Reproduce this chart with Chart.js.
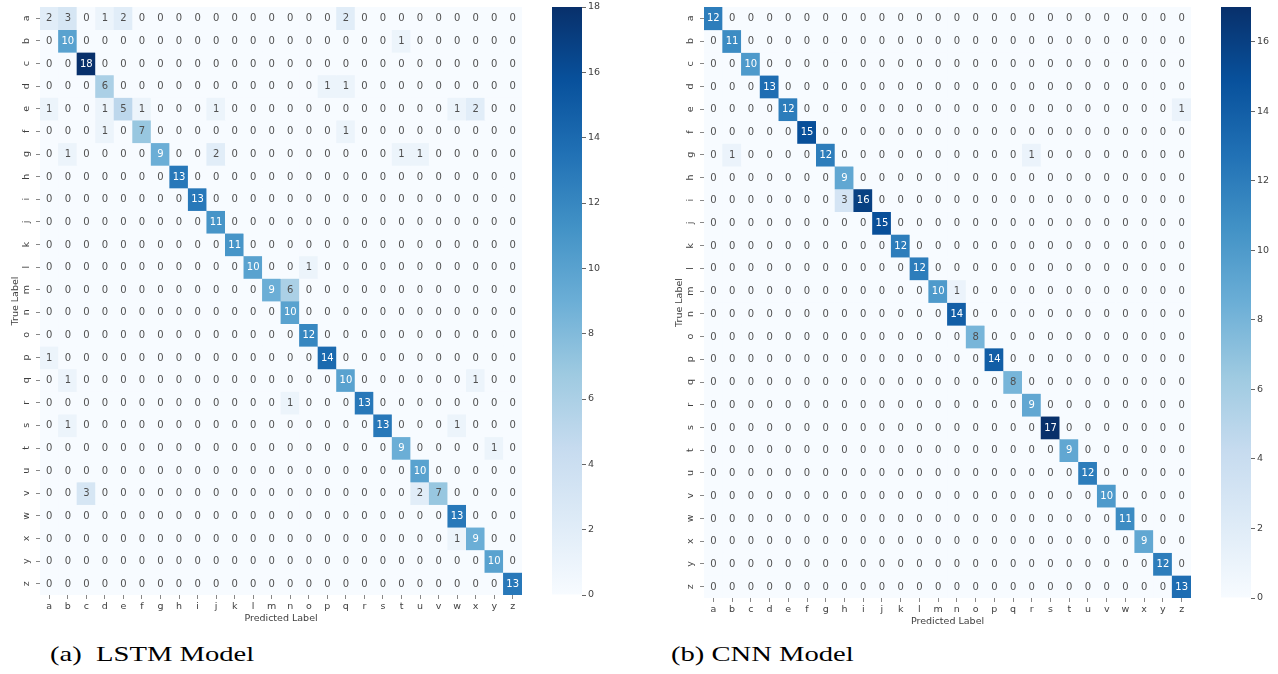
<!DOCTYPE html>
<html>
<head>
<meta charset="utf-8">
<script src="https://cdn.jsdelivr.net/npm/chart.js@4.4.0/dist/chart.umd.min.js"></script>
<style>
  html, body { margin: 0; padding: 0; background: #fff; }
  body { width: 1278px; height: 674px; overflow: hidden; position: relative; }
  .box { position: absolute; }
  .cap { position: absolute; font-family: "Liberation Serif", serif; font-size: 22px; line-height: 1;
         white-space: pre; transform: scaleX(1.3); transform-origin: 0 0; color: #000; }
</style>
</head>
<body>
<div class="box" style="left:0px;top:0px;width:530px;height:630px"><canvas id="hmLstm"></canvas></div>
<div class="box" style="left:540px;top:0px;width:80px;height:630px"><canvas id="cbLstm"></canvas></div>
<div class="box" style="left:664px;top:0px;width:535px;height:633px"><canvas id="hmCnn"></canvas></div>
<div class="box" style="left:1209px;top:0px;width:80px;height:633px"><canvas id="cbCnn"></canvas></div>
<div class="cap" style="left:50px;top:643px">(a)  LSTM Model</div>
<div class="cap" style="left:671px;top:643px">(b) CNN Model</div>
<script>
// ---- data ----
const letters = ['a','b','c','d','e','f','g','h','i','j','k','l','m','n','o','p','q','r','s','t','u','v','w','x','y','z'];

const lstmMatrix = [
  [2,3,0,1,2,0,0,0,0,0,0,0,0,0,0,0,2,0,0,0,0,0,0,0,0,0],
  [0,10,0,0,0,0,0,0,0,0,0,0,0,0,0,0,0,0,0,1,0,0,0,0,0,0],
  [0,0,18,0,0,0,0,0,0,0,0,0,0,0,0,0,0,0,0,0,0,0,0,0,0,0],
  [0,0,0,6,0,0,0,0,0,0,0,0,0,0,0,1,1,0,0,0,0,0,0,0,0,0],
  [1,0,0,1,5,1,0,0,0,1,0,0,0,0,0,0,0,0,0,0,0,0,1,2,0,0],
  [0,0,0,1,0,7,0,0,0,0,0,0,0,0,0,0,1,0,0,0,0,0,0,0,0,0],
  [0,1,0,0,0,0,9,0,0,2,0,0,0,0,0,0,0,0,0,1,1,0,0,0,0,0],
  [0,0,0,0,0,0,0,13,0,0,0,0,0,0,0,0,0,0,0,0,0,0,0,0,0,0],
  [0,0,0,0,0,0,0,0,13,0,0,0,0,0,0,0,0,0,0,0,0,0,0,0,0,0],
  [0,0,0,0,0,0,0,0,0,11,0,0,0,0,0,0,0,0,0,0,0,0,0,0,0,0],
  [0,0,0,0,0,0,0,0,0,0,11,0,0,0,0,0,0,0,0,0,0,0,0,0,0,0],
  [0,0,0,0,0,0,0,0,0,0,0,10,0,0,1,0,0,0,0,0,0,0,0,0,0,0],
  [0,0,0,0,0,0,0,0,0,0,0,0,9,6,0,0,0,0,0,0,0,0,0,0,0,0],
  [0,0,0,0,0,0,0,0,0,0,0,0,0,10,0,0,0,0,0,0,0,0,0,0,0,0],
  [0,0,0,0,0,0,0,0,0,0,0,0,0,0,12,0,0,0,0,0,0,0,0,0,0,0],
  [1,0,0,0,0,0,0,0,0,0,0,0,0,0,0,14,0,0,0,0,0,0,0,0,0,0],
  [0,1,0,0,0,0,0,0,0,0,0,0,0,0,0,0,10,0,0,0,0,0,0,1,0,0],
  [0,0,0,0,0,0,0,0,0,0,0,0,0,1,0,0,0,13,0,0,0,0,0,0,0,0],
  [0,1,0,0,0,0,0,0,0,0,0,0,0,0,0,0,0,0,13,0,0,0,1,0,0,0],
  [0,0,0,0,0,0,0,0,0,0,0,0,0,0,0,0,0,0,0,9,0,0,0,0,1,0],
  [0,0,0,0,0,0,0,0,0,0,0,0,0,0,0,0,0,0,0,0,10,0,0,0,0,0],
  [0,0,3,0,0,0,0,0,0,0,0,0,0,0,0,0,0,0,0,0,2,7,0,0,0,0],
  [0,0,0,0,0,0,0,0,0,0,0,0,0,0,0,0,0,0,0,0,0,0,13,0,0,0],
  [0,0,0,0,0,0,0,0,0,0,0,0,0,0,0,0,0,0,0,0,0,0,1,9,0,0],
  [0,0,0,0,0,0,0,0,0,0,0,0,0,0,0,0,0,0,0,0,0,0,0,0,10,0],
  [0,0,0,0,0,0,0,0,0,0,0,0,0,0,0,0,0,0,0,0,0,0,0,0,0,13]
];

const cnnMatrix = [
  [12,0,0,0,0,0,0,0,0,0,0,0,0,0,0,0,0,0,0,0,0,0,0,0,0,0],
  [0,11,0,0,0,0,0,0,0,0,0,0,0,0,0,0,0,0,0,0,0,0,0,0,0,0],
  [0,0,10,0,0,0,0,0,0,0,0,0,0,0,0,0,0,0,0,0,0,0,0,0,0,0],
  [0,0,0,13,0,0,0,0,0,0,0,0,0,0,0,0,0,0,0,0,0,0,0,0,0,0],
  [0,0,0,0,12,0,0,0,0,0,0,0,0,0,0,0,0,0,0,0,0,0,0,0,0,1],
  [0,0,0,0,0,15,0,0,0,0,0,0,0,0,0,0,0,0,0,0,0,0,0,0,0,0],
  [0,1,0,0,0,0,12,0,0,0,0,0,0,0,0,0,0,1,0,0,0,0,0,0,0,0],
  [0,0,0,0,0,0,0,9,0,0,0,0,0,0,0,0,0,0,0,0,0,0,0,0,0,0],
  [0,0,0,0,0,0,0,3,16,0,0,0,0,0,0,0,0,0,0,0,0,0,0,0,0,0],
  [0,0,0,0,0,0,0,0,0,15,0,0,0,0,0,0,0,0,0,0,0,0,0,0,0,0],
  [0,0,0,0,0,0,0,0,0,0,12,0,0,0,0,0,0,0,0,0,0,0,0,0,0,0],
  [0,0,0,0,0,0,0,0,0,0,0,12,0,0,0,0,0,0,0,0,0,0,0,0,0,0],
  [0,0,0,0,0,0,0,0,0,0,0,0,10,1,0,0,0,0,0,0,0,0,0,0,0,0],
  [0,0,0,0,0,0,0,0,0,0,0,0,0,14,0,0,0,0,0,0,0,0,0,0,0,0],
  [0,0,0,0,0,0,0,0,0,0,0,0,0,0,8,0,0,0,0,0,0,0,0,0,0,0],
  [0,0,0,0,0,0,0,0,0,0,0,0,0,0,0,14,0,0,0,0,0,0,0,0,0,0],
  [0,0,0,0,0,0,0,0,0,0,0,0,0,0,0,0,8,0,0,0,0,0,0,0,0,0],
  [0,0,0,0,0,0,0,0,0,0,0,0,0,0,0,0,0,9,0,0,0,0,0,0,0,0],
  [0,0,0,0,0,0,0,0,0,0,0,0,0,0,0,0,0,0,17,0,0,0,0,0,0,0],
  [0,0,0,0,0,0,0,0,0,0,0,0,0,0,0,0,0,0,0,9,0,0,0,0,0,0],
  [0,0,0,0,0,0,0,0,0,0,0,0,0,0,0,0,0,0,0,0,12,0,0,0,0,0],
  [0,0,0,0,0,0,0,0,0,0,0,0,0,0,0,0,0,0,0,0,0,10,0,0,0,0],
  [0,0,0,0,0,0,0,0,0,0,0,0,0,0,0,0,0,0,0,0,0,0,11,0,0,0],
  [0,0,0,0,0,0,0,0,0,0,0,0,0,0,0,0,0,0,0,0,0,0,0,9,0,0],
  [0,0,0,0,0,0,0,0,0,0,0,0,0,0,0,0,0,0,0,0,0,0,0,0,12,0],
  [0,0,0,0,0,0,0,0,0,0,0,0,0,0,0,0,0,0,0,0,0,0,0,0,0,13]
];

const lstmMax = 18;
const cnnMax = 17;
const lstmBarTicks = [0,2,4,6,8,10,12,14,16,18];
const cnnBarTicks = [0,2,4,6,8,10,12,14,16];

// ---- Blues colormap ----
const bluesStops = ['#f7fbff','#deebf7','#c6dbef','#9ecae1','#6baed6','#4292c6','#2171b5','#08519c','#08306b'];
function hexRgb(h){ return [1,3,5].map(i => parseInt(h.substr(i,2),16)); }
function bluesRgb(t){
  t = Math.max(0, Math.min(1, t));
  const p = t * (bluesStops.length - 1);
  const i = Math.min(Math.floor(p), bluesStops.length - 2);
  const f = p - i;
  const a = hexRgb(bluesStops[i]), b = hexRgb(bluesStops[i+1]);
  return [0,1,2].map(k => Math.round(a[k] + (b[k]-a[k]) * f));
}
function rgbStr(c){ return 'rgb(' + c.join(',') + ')'; }
function textColorFor(c){
  const lin = c.map(v => { v /= 255; return v <= 0.03928 ? v/12.92 : Math.pow((v+0.055)/1.055, 2.4); });
  const lum = 0.2126*lin[0] + 0.7152*lin[1] + 0.0722*lin[2];
  return lum > 0.408 ? '#505050' : '#ffffff';
}

const FONT = '"DejaVu Sans", sans-serif';
const TXT = '#404040';

const annotPlugin = {
  id: 'annot',
  afterDatasetsDraw(chart, args, opts) {
    const ctx = chart.ctx;
    ctx.save();
    ctx.font = '10px ' + FONT;
    ctx.textAlign = 'center';
    ctx.textBaseline = 'middle';
    chart.data.datasets.forEach((ds, di) => {
      chart.getDatasetMeta(di).data.forEach((bar, i) => {
        const v = ds.values[i];
        ctx.fillStyle = textColorFor(bluesRgb(v / opts.vmax));
        const p = bar.getCenterPoint();
        ctx.fillText(String(v), p.x, p.y + 0.5);
      });
    });
    ctx.restore();
  }
};

function heatmap(id, matrix, vmax) {
  const n = letters.length;
  const datasets = matrix.map((row, r) => ({
    label: letters[r],
    data: row.map(() => [r, r + 1]),
    values: row,
    backgroundColor: row.map(v => rgbStr(bluesRgb(v / vmax))),
    borderWidth: 0,
    inflateAmount: 0.4,
    grouped: false,
    barPercentage: 1,
    categoryPercentage: 1
  }));
  new Chart(document.getElementById(id), {
    type: 'bar',
    data: { labels: letters, datasets },
    plugins: [annotPlugin],
    options: {
      responsive: true,
      maintainAspectRatio: false,
      animation: false,
      layout: { padding: { left: 0, top: 7, right: 8, bottom: 0 } },
      plugins: { legend: { display: false }, tooltip: { enabled: false }, annot: { vmax } },
      scales: {
        x: {
          type: 'category',
          offset: true,
          grid: { display: true, drawOnChartArea: false, offset: false, tickLength: 4, tickColor: '#888', tickWidth: 1 },
          border: { display: false },
          ticks: { font: { size: 9.5, family: FONT }, color: TXT, padding: 2, maxRotation: 0, minRotation: 0, autoSkip: false },
          title: { display: true, text: 'Predicted Label', font: { size: 9.5, family: FONT }, color: TXT, padding: { top: 0, bottom: 6 } },
          afterFit: a => { a.height = 35; a.paddingLeft = 0; a.paddingRight = 0; }
        },
        y: {
          type: 'linear',
          min: 0, max: n, reverse: true,
          afterBuildTicks: a => { a.ticks = letters.map((_, i) => ({ value: i + 0.5 })); },
          grid: { display: true, drawOnChartArea: false, tickLength: 4, tickColor: '#888', tickWidth: 1 },
          border: { display: false },
          ticks: {
            callback: v => letters[Math.floor(v)],
            font: { size: 9.5, family: FONT }, color: TXT,
            minRotation: 90, maxRotation: 90, crossAlign: 'center', padding: 4.5, autoSkip: false
          },
          title: { display: true, text: 'True Label', font: { size: 9.5, family: FONT }, color: TXT, padding: { top: 10, bottom: 0 } },
          afterFit: a => { a.width = 40; a.paddingTop = 0; a.paddingBottom = 0; }
        }
      }
    }
  });
}

function colorbar(id, vmax, tickVals, bottomPad) {
  new Chart(document.getElementById(id), {
    type: 'bar',
    data: {
      labels: [''],
      datasets: [{
        data: [[0, vmax]],
        backgroundColor: ctx => {
          const a = ctx.chart.chartArea;
          if (!a) return bluesStops[0];
          const g = ctx.chart.ctx.createLinearGradient(0, a.bottom, 0, a.top);
          bluesStops.forEach((s, i) => g.addColorStop(i / (bluesStops.length - 1), s));
          return g;
        },
        borderWidth: 0,
        inflateAmount: 0,
        barPercentage: 1,
        categoryPercentage: 1
      }]
    },
    options: {
      responsive: true,
      maintainAspectRatio: false,
      animation: false,
      layout: { padding: { left: 12, top: 7, right: 0, bottom: bottomPad } },
      plugins: { legend: { display: false }, tooltip: { enabled: false } },
      scales: {
        x: { display: false },
        y: {
          position: 'right',
          min: 0, max: vmax,
          afterBuildTicks: a => { a.ticks = tickVals.map(v => ({ value: v })); },
          grid: { display: true, drawOnChartArea: false, tickLength: 4, tickColor: '#666', tickWidth: 1 },
          border: { display: false },
          ticks: { font: { size: 9.5, family: FONT }, color: TXT, padding: 2 },
          afterFit: a => { a.width = 38; a.paddingTop = 0; a.paddingBottom = 0; }
        }
      }
    }
  });
}

heatmap('hmLstm', lstmMatrix, lstmMax);
colorbar('cbLstm', lstmMax, lstmBarTicks, 35);
heatmap('hmCnn', cnnMatrix, cnnMax);
colorbar('cbCnn', cnnMax, cnnBarTicks, 35);
</script>
</body>
</html>
